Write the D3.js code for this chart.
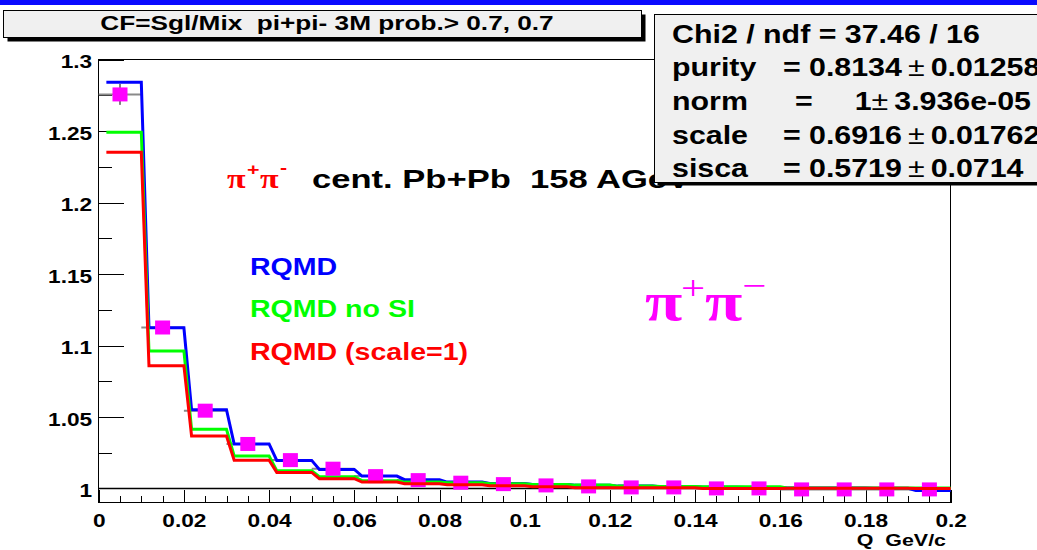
<!DOCTYPE html>
<html>
<head>
<meta charset="utf-8">
<script src="https://cdn.jsdelivr.net/npm/d3@7"></script>
<style>
  html, body { margin: 0; padding: 0; background: #fff; }
  svg { display: block; }
</style>
</head>
<body>
<svg id="chart" width="1037" height="550"></svg>
<script>
// Q bins (GeV/c): 20 bins of width 0.01
const qEdges = [0, 0.01, 0.02, 0.03, 0.04, 0.05, 0.06, 0.07, 0.08, 0.09, 0.10,
                0.11, 0.12, 0.13, 0.14, 0.15, 0.16, 0.17, 0.18, 0.19, 0.20];

// measured correlation function (Sgl/Mix) and its errors
const cfData = [1.2757, 1.1126, 1.0544, 1.0311, 1.0198, 1.0138, 1.0086, 1.0058, 1.0040, 1.0030,
                1.0021, 1.0014, 1.0007, 1.0007, 1.0000, 1.0000, 0.9993, 0.9993, 0.9993, 0.9993];
const cfErr  = [0.0073, 0.0035, 0.0022, 0.0017, 0.0014, 0.0012, 0.0011, 0.0010, 0.0010, 0.0009,
                0.0009, 0.0008, 0.0008, 0.0008, 0.0008, 0.0007, 0.0007, 0.0007, 0.0007, 0.0007];

// model curves
const rqmd       = [1.2843, 1.1124, 1.0551, 1.0311, 1.0196, 1.0133, 1.0086, 1.0061, 1.0044, 1.0035,
                    1.0028, 1.0022, 1.0016, 1.0012, 1.0008, 1.0006, 1.0003, 1.0002, 1.0001, 0.9986];
const rqmdNoSI   = [1.2493, 1.0962, 1.0414, 1.0227, 1.0124, 1.0082, 1.0054, 1.0044, 1.0040, 1.0033,
                    1.0028, 1.0023, 1.0016, 1.0014, 1.0012, 1.0012, 1.0002, 1.0002, 1.0002, 1.0002];
const rqmdScale1 = [1.2353, 1.0859, 1.0367, 1.0197, 1.0112, 1.0068, 1.0044, 1.0033, 1.0026, 1.0019,
                    1.0012, 1.0005, 1.0005, 1.0005, 1.0000, 1.0000, 1.0001, 1.0001, 1.0001, 1.0000];

// axis tick labels
const yTickLabels = ["1", "1.05", "1.1", "1.15", "1.2", "1.25", "1.3"];
const xTickLabels = ["0", "0.02", "0.04", "0.06", "0.08", "0.1", "0.12", "0.14", "0.16", "0.18", "0.2"];

// fit statistics
const statsRows = [
  { name: "purity", value: "0.8134", err: "0.01258" },
  { name: "norm",   value: "1",      err: "3.936e-05" },
  { name: "scale",  value: "0.6916", err: "0.01762" },
  { name: "sisca",  value: "0.5719", err: "0.0714" }
];

const FONT = "'Liberation Sans', Arial, Helvetica, sans-serif";
const SERIF = "'Liberation Serif', 'Times New Roman', serif";
const SX = 1.26;   // horizontal stretch of the canvas text

const svg = d3.select("#chart");

const x = d3.scaleLinear().domain([0, 0.2]).range([98.7, 950.7]);
const y = d3.scaleLinear().domain([0.99, 1.3]).range([502.7, 59.7]);

function label(sel, px, py, str, o = {}) {
  return sel.append("text")
    .attr("transform", `translate(${px},${py}) scale(${o.sx ?? SX},1)`)
    .attr("font-family", o.family || FONT)
    .attr("font-weight", o.weight || "bold")
    .attr("font-size", o.size || 18)
    .attr("fill", o.color || "#000")
    .attr("text-anchor", o.anchor || "start")
    .style("white-space", "pre")
    .text(str);
}

// top band
svg.append("rect").attr("x", 0).attr("y", 0).attr("width", 1037).attr("height", 5).attr("fill", "#0a0aff");

// ---- axes ----
const yMajor = yTickLabels.map(Number);
const yMinor = d3.range(1.025, 1.3, 0.05);
const xMajor = xTickLabels.map(Number);
const xMinor = d3.range(0, 0.2001, 0.005).filter(v => Math.abs(v / 0.02 - Math.round(v / 0.02)) > 1e-6);

const axes = svg.append("g").attr("shape-rendering", "crispEdges");

axes.append("g").attr("transform", `translate(${x(0)},0)`)
  .call(d3.axisLeft(y).tickValues(yMinor).tickSize(-13).tickSizeOuter(0).tickFormat(() => ""));
const yAxisMajor = axes.append("g").attr("transform", `translate(${x(0)},0)`)
  .call(d3.axisLeft(y).tickValues(yMajor).tickSize(-25).tickSizeOuter(0)
    .tickFormat((d, i) => yTickLabels[i]));
axes.append("g").attr("transform", `translate(0,${y(0.99)})`)
  .call(d3.axisBottom(x).tickValues(xMinor).tickSize(-7).tickSizeOuter(0).tickFormat(() => ""));
const xAxisMajor = axes.append("g").attr("transform", `translate(0,${y(0.99)})`)
  .call(d3.axisBottom(x).tickValues(xMajor).tickSize(-13).tickSizeOuter(0)
    .tickFormat((d, i) => xTickLabels[i]));

axes.selectAll(".domain").remove();
axes.selectAll(".tick line").attr("stroke", "#000").attr("stroke-width", 1);

yAxisMajor.selectAll("text")
  .attr("x", null).attr("dy", "0.45em")
  .attr("transform", `translate(-6.5,0) scale(${SX},1)`)
  .attr("font-family", FONT).attr("font-weight", "bold").attr("font-size", 18).attr("fill", "#000");
xAxisMajor.selectAll("text")
  .attr("y", 24.3).attr("dy", null)
  .attr("transform", `scale(${SX},1)`)
  .attr("font-family", FONT).attr("font-weight", "bold").attr("font-size", 18).attr("fill", "#000");

// frame
svg.append("rect")
  .attr("x", x(0)).attr("y", y(1.3))
  .attr("width", x(0.2) - x(0)).attr("height", y(0.99) - y(1.3))
  .attr("fill", "none").attr("stroke", "#000").attr("stroke-width", 1)
  .attr("shape-rendering", "crispEdges");

// unity line
svg.append("line")
  .attr("x1", x(0)).attr("x2", x(0.2)).attr("y1", y(1)).attr("y2", y(1))
  .attr("stroke", "#000").attr("stroke-width", 1.5);

// ---- data error bars ----
const bins = cfData.map((v, i) => ({ lo: qEdges[i], hi: qEdges[i + 1], c: (qEdges[i] + qEdges[i + 1]) / 2, v, e: cfErr[i] }));

const errG = svg.append("g");
errG.selectAll("line.h").data(bins).join("line").attr("class", "h")
  .attr("x1", d => x(d.lo)).attr("x2", d => x(d.hi))
  .attr("y1", d => y(d.v)).attr("y2", d => y(d.v))
  .attr("stroke", "#8a8a8a").attr("stroke-width", 2);
errG.selectAll("line.v").data(bins).join("line").attr("class", "v")
  .attr("x1", d => x(d.c)).attr("x2", d => x(d.c))
  .attr("y1", d => y(d.v - d.e)).attr("y2", d => y(d.v + d.e))
  .attr("stroke", "#000").attr("stroke-width", 1);

// ---- model histograms ----
const STEP_OFF = 0.0018;
function histPoints(vals) {
  const pts = [];
  vals.forEach((v, i) => {
    pts.push([qEdges[i] + STEP_OFF, v]);
    pts.push([qEdges[i + 1], v]);
  });
  return pts;
}
const histLine = d3.line().x(d => x(d[0])).y(d => y(d[1]));

function drawHist(vals, color) {
  svg.append("path")
    .attr("d", histLine(histPoints(vals)))
    .attr("fill", "none").attr("stroke", color).attr("stroke-width", 3)
    .attr("stroke-linejoin", "miter");
}
drawHist(rqmd, "#0000ff");
drawHist(rqmdNoSI, "#00ff00");

// data markers
svg.append("g").selectAll("rect").data(bins).join("rect")
  .attr("x", d => x(d.c) - 7.5).attr("y", d => y(d.v) - 7)
  .attr("width", 15).attr("height", 14)
  .attr("fill", "#ff00ff");

drawHist(rqmdScale1, "#ff0000");

// ---- annotations ----
label(svg, 250, 275, "RQMD", { size: 24, color: "#0000ff", sx: 1.19 });
label(svg, 250, 317, "RQMD no SI", { size: 24, color: "#00ff00", sx: 1.19 });
label(svg, 250, 360, "RQMD (scale=1)", { size: 24, color: "#ff0000", sx: 1.19 });

// reaction label
label(svg, 227, 188, "π", { size: 27, color: "#ff0000", family: SERIF });
label(svg, 247, 175, "+", { size: 17, color: "#ff0000" });
label(svg, 260, 188, "π", { size: 27, color: "#ff0000", family: SERIF });
label(svg, 280, 173, "-", { size: 17, color: "#ff0000" });
label(svg, 312, 188, "cent. Pb+Pb  158 AGeV", { size: 26, sx: 1.33 });

// large pi+ pi- label
label(svg, 645, 320, "π", { size: 54, color: "#ff00ff", family: SERIF });
label(svg, 681, 299, "+", { size: 34, color: "#ff00ff", family: SERIF, weight: "normal" });
label(svg, 705, 320, "π", { size: 54, color: "#ff00ff", family: SERIF });
label(svg, 742, 297, "−", { size: 34, color: "#ff00ff", family: SERIF, weight: "normal" });

// ---- title box ----
const titleG = svg.append("g");
titleG.append("rect").attr("x", 7.5).attr("y", 14.5).attr("width", 638).attr("height", 27).attr("fill", "#000");
titleG.append("rect").attr("x", 3.5).attr("y", 10.5).attr("width", 638).attr("height", 27)
  .attr("fill", "#f0f0f0").attr("stroke", "#000").attr("stroke-width", 1);
label(titleG, 327, 30, "CF=Sgl/Mix  pi+pi- 3M prob.> 0.7, 0.7", { size: 20, anchor: "middle", sx: 1.31 });

// ---- fit statistics box ----
const statG = svg.append("g");
statG.append("rect").attr("x", 657.5).attr("y", 17.5).attr("width", 400).attr("height", 168).attr("fill", "#000");
statG.append("rect").attr("x", 654.5).attr("y", 14.5).attr("width", 400).attr("height", 168)
  .attr("fill", "#f0f0f0").attr("stroke", "#000").attr("stroke-width", 1);

const STAT_SX = 1.215;
label(statG, 672, 43, "Chi2 / ndf = 37.46 / 16", { size: 25, sx: STAT_SX });

function valueText(t, r, gap) {
  t.text(null);
  t.append("tspan").text(r.value + gap);
  t.append("tspan").attr("font-weight", "normal").text("±");
  t.append("tspan").text("\u2009" + r.err);
  return t;
}
const rowY = [76, 110, 144, 177];
statsRows.forEach((r, i) => {
  label(statG, 672, rowY[i], r.name, { size: 25, sx: STAT_SX });
  if (r.name === "norm") {
    label(statG, 795, rowY[i], "=", { size: 25, sx: STAT_SX });
    valueText(label(statG, 1031, rowY[i], "", { size: 25, sx: STAT_SX, anchor: "end" }), r, "");
  } else {
    label(statG, 783, rowY[i], "=", { size: 25, sx: STAT_SX });
    valueText(label(statG, 809, rowY[i], "", { size: 25, sx: STAT_SX }), r, "\u2009");
  }
});

// x axis title
label(svg, 946, 546, "Q  GeV/c", { size: 17, anchor: "end" });
</script>
</body>
</html>
